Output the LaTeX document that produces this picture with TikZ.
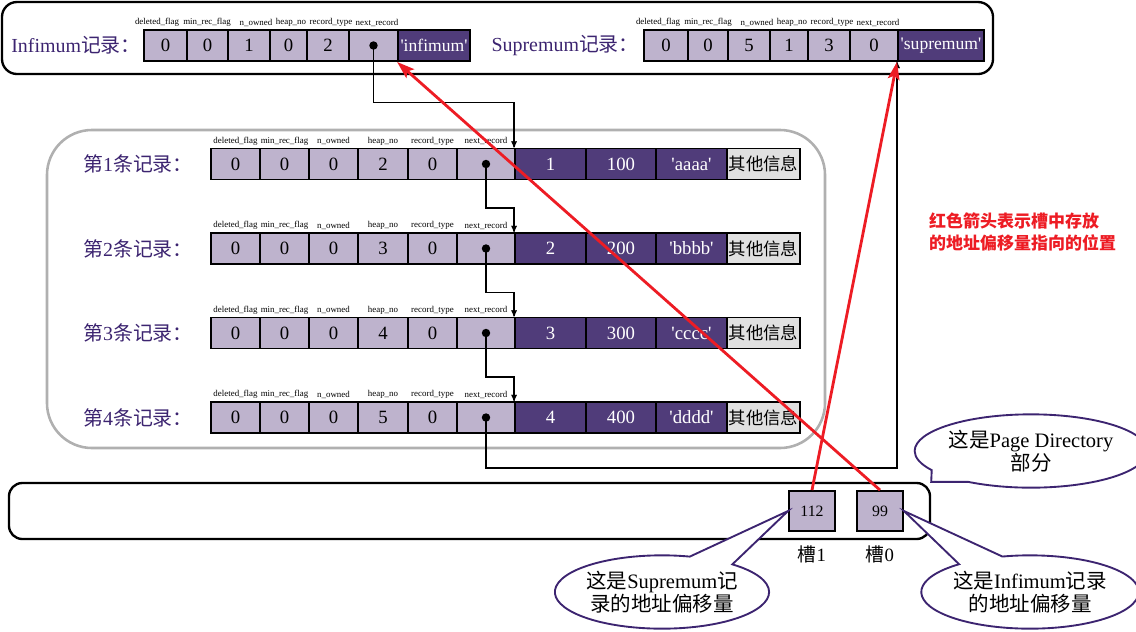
\documentclass[tikz,border=0pt]{standalone}
\usepackage{fontspec}
\setmainfont{Liberation Serif}
\newfontfamily\cjk{Noto Sans CJK SC}
\usetikzlibrary{arrows,arrows.meta,positioning,shapes.callouts}

\definecolor{cellL}{RGB}{190,179,205}
\definecolor{cellD}{RGB}{80,60,122}
\definecolor{cellG}{RGB}{224,224,224}
\definecolor{txtP}{RGB}{60,36,112}
\definecolor{arrR}{RGB}{237,28,36}
\definecolor{boxG}{RGB}{176,176,176}

\newcommand{\quoted}[1]{\textquotesingle#1\textquotesingle}

\tikzset{
  cell/.style={draw, line width=1.6pt, fill=cellL, minimum height=0.93cm, inner sep=0pt, font=\fontsize{16}{18}\selectfont},
  dcell/.style={cell, fill=cellD, text=white},
  gcell/.style={cell, fill=cellG},
  head/.style={inner sep=0pt, font=\fontsize{7.6}{9}\selectfont},
  title/.style={anchor=east, inner sep=0pt, text=txtP, font=\fontsize{17}{20}\selectfont},
  link/.style={->, >=stealth', line width=1pt},
  slotlink/.style={-{Stealth[length=15pt, width=10pt, inset=3pt]}, draw=arrR, line width=2.4pt},
  talk/.style={ellipse callout, draw=txtP, line width=1.6pt, fill=white, align=center, callout pointer arc=26,
    inner sep=0pt, minimum width=6.25cm, minimum height=2.2cm, font=\fontsize{17.5}{20}\selectfont}
}

\begin{document}
\begin{tikzpicture}[x=0.03cm, y=-0.03cm]
    \useasboundingbox (0,0) rectangle (1136,631);

    % frames
    \node[draw, line width=2pt, rounded corners=0.45cm, minimum width=29.73cm, minimum height=2.16cm] (top) at (497.5,38) {};
    \node[draw=boxG, line width=2.2pt, rounded corners=1.35cm, minimum width=23.34cm, minimum height=9.54cm] (group) at (436,289) {};
    \node[draw, line width=2pt, rounded corners=0.4cm, minimum width=27.63cm, minimum height=1.68cm] (pd) at (469.5,511) {};

    % Infimum and Supremum
    \node[title] (infT) at (141,45.5) {Infimum{\cjk 记录：}};
    \foreach \l/\r/\v [count=\i] in {144/187/0, 187/228/0, 228/270/1, 270/307/0, 307/349/2, 349/398/{}}
        \node[cell, minimum width={(\r-\l)*0.03cm}] (inf\i) at ({(\l+\r)/2},45.5) {\v};
    \node[dcell, minimum width=2.16cm, font=\fontsize{15}{17}\selectfont] (inf7) at (434,45.5) {\quoted{infimum}};

    \node[title] (supT) at (639,45.5) {Supremum{\cjk 记录：}};
    \foreach \l/\r/\v [count=\i] in {644/688/0, 688/728/0, 728/770/5, 770/808/1, 808/850/3, 850/898/0}
        \node[cell, minimum width={(\r-\l)*0.03cm}] (sup\i) at ({(\l+\r)/2},45.5) {\v};
    \node[dcell, minimum width=2.58cm, font=\fontsize{15}{17}\selectfont] (sup7) at (941,45.5) {\quoted{supremum}};

    \foreach \t/\x [count=\i] in {deleted\_flag/157, min\_rec\_flag/207, n\_owned/256, heap\_no/291, record\_type/331, next\_record/377} {
        \node[head] (infH\i) at (\x,22.5) {\t};
        \node[head] (supH\i) at (\x+501,22.5) {\t};
    }

    % user records
    \foreach \h/\amt/\name [count=\k] in {2/100/aaaa, 3/200/bbbb, 4/300/cccc, 5/400/dddd} {
        \pgfmathsetmacro\y{164+84.5*(\k-1)}
        \node[title] (r\k T) at (193,\y) {{\cjk 第}\k{\cjk 条记录：}};
        \foreach \l/\r/\v [count=\i] in {211/260/0, 260/309/0, 309/358/0, 358/408/\h, 408/457/0, 457/515/{}}
            \node[cell, minimum width={(\r-\l)*0.03cm}] (r\k c\i) at ({(\l+\r)/2},\y) {\v};
        \foreach \l/\r/\v [count=\i from 7] in {515/586/\k, 586/656/\amt, 656/727/\quoted{\name}}
            \node[dcell, minimum width={(\r-\l)*0.03cm}] (r\k c\i) at ({(\l+\r)/2},\y) {\v};
        \node[gcell, minimum width=2.19cm, font=\cjk\fontsize{14.8}{17}\selectfont] (r\k c10) at (763.5,\y) {其他信息};
        \foreach \t [count=\i] in {deleted\_flag, min\_rec\_flag, n\_owned, heap\_no, record\_type, next\_record}
            \node[head] (r\k H\i) at ([yshift=23*0.03cm]r\k c\i.center) {\t};
        \fill (r\k c6.center) circle (3.6pt);
    }
    \fill (inf6.center) circle (3.6pt);

    % next_record chain
    \draw[link] (inf6.center) -- ++(0,57) -| (r1c7.north west);
    \foreach \k [evaluate=\k as \nk using int(\k+1)] in {1,2,3}
        \draw[link] (r\k c6.center) -- ++(0,44) -| (r\nk c7.north west);
    \draw[link] (r4c6.center) -- ++(0,50.5) -| (sup7.south west);

    % page directory
    \node[cell, minimum width=1.38cm, minimum height=1.2cm, font=\fontsize{13.5}{15}\selectfont] (slot1) at (812,511) {112};
    \node[cell, minimum width=1.38cm, minimum height=1.2cm, font=\fontsize{13.5}{15}\selectfont] (slot0) at (880,511) {99};
    \node[font=\fontsize{16}{18}\selectfont] (slot1L) at (812,554) {{\cjk 槽}1};
    \node[font=\fontsize{16}{18}\selectfont] (slot0L) at (880,554) {{\cjk 槽}0};

    \draw[slotlink] (slot1.north) -- (sup7.south west);
    \draw[slotlink] (slot0.north) -- (inf7.south west);

    \node[anchor=west, align=left, text=arrR, font=\cjk\bfseries\fontsize{14.5}{18}\selectfont] (note) at (925,232)
        {红色箭头表示槽中存放\\的地址偏移量指向的位置};

    % callouts
    \node[talk, callout absolute pointer={(pd.north east)}] (pdNote) at (1031,451) {{\cjk 这是}Page Directory\\{\cjk 部分}};
    \node[talk, callout absolute pointer={(slot1.west)}] (supNote) at (662,592) {{\cjk 这是}Supremum{\cjk 记}\\{\cjk 录的地址偏移量}};
    \node[talk, callout absolute pointer={(slot0.east)}] (infNote) at (1030,592) {{\cjk 这是}Infimum{\cjk 记录}\\{\cjk 的地址偏移量}};
\end{tikzpicture}
\end{document}
